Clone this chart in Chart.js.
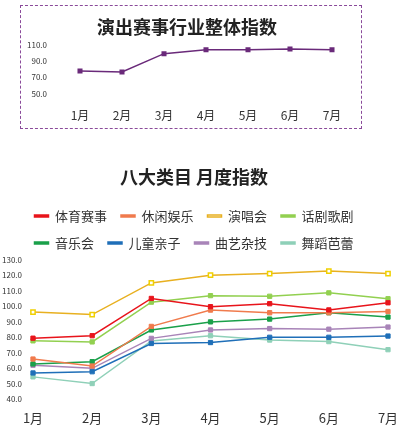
<!DOCTYPE html><html><head><meta charset="utf-8">
<script src="https://cdn.jsdelivr.net/npm/chart.js@4"></script>
<style>
body{margin:0;background:#fff;width:414px;height:437px;position:relative;font-family:"Noto Sans CJK SC",sans-serif}
#b1{position:absolute;left:20px;top:5px;width:342px;height:124px;border:1px dashed #8a4a9a;box-sizing:border-box}
#b2{position:absolute;left:0;top:160px;width:414px;height:277px}
</style></head><body>
<div id="b1"><canvas id="c1"></canvas></div>
<div id="b2"><canvas id="c2"></canvas></div>
<script>
const months=['1月','2月','3月','4月','5月','6月','7月'];
const overall=[78,76.7,99.5,104.4,104.5,105.4,104.5];
const names=['体育赛事','休闲娱乐','演唱会','话剧歌剧','音乐会','儿童亲子','曲艺杂技','舞蹈芭蕾'];
const sports=[79.4,81,105,99.7,101.6,97.6,102.2];
const leisure=[66,61.5,87,97.5,95.8,95.8,96.6];
const concert=[96.2,94.6,115,120,121,122.6,121];
const drama=[77.7,77,102.6,106.8,106.4,108.6,104.8];
const music=[62.8,64.3,84.7,89.9,91.7,95.8,93];
const kids=[57,57.8,76,76.6,80,80,80.8];
const folk=[62,60,79.3,84.7,85.6,85.2,86.6];
const dance=[54.5,50.2,77.6,81,78.2,77.2,72];
const colors=['#e8141b','#f07b4d','#e8b020','#92d050','#1aa04a','#1f6fb8','#a884b8','#8fd0b8'];
const F='"Noto Sans CJK SC",sans-serif';
Chart.defaults.font.family=F;Chart.defaults.color='#333';
const fmt=v=>v.toFixed(1);
new Chart(c1,{type:'line',data:{labels:months,datasets:[{data:overall,borderColor:'#6a2a7a',backgroundColor:'#6a2a7a',borderWidth:1.5,pointStyle:'rect',pointRadius:2.5}]},
options:{responsive:true,maintainAspectRatio:false,animation:false,layout:{padding:{left:0,right:8,top:0,bottom:2}},
plugins:{legend:{display:false},title:{display:true,text:'演出赛事行业整体指数',font:{size:18,weight:'bold'},color:'#222',padding:{top:10,bottom:6}}},
scales:{x:{offset:true,afterFit:a=>{},grid:{display:false},border:{display:false},ticks:{font:{size:12},color:'#333'}},
y:{min:45,max:112,afterBuildTicks:a=>{a.ticks=[50,70,90,110].map(v=>({value:v}))},afterFit:a=>{a.width=38},grid:{display:false},border:{display:false},ticks:{font:{size:8},callback:fmt,padding:4}}}}});
const sets=[sports,leisure,concert,drama,music,kids,folk,dance];
new Chart(c2,{type:'line',data:{labels:months,datasets:sets.map((d,i)=>({label:names[i],data:d,borderColor:colors[i],backgroundColor:i==2?'#fff':colors[i],pointBorderColor:i==2?'#f0d000':colors[i],borderWidth:1.5,pointStyle:'rect',pointRadius:3,pointBorderWidth:i==2?1.5:1}))},
options:{responsive:true,maintainAspectRatio:false,animation:false,layout:{padding:{left:0,right:26,top:0,bottom:8}},
plugins:{title:{display:true,text:'八大类目 月度指数',font:{size:18,weight:'bold'},color:'#222',padding:{top:6,bottom:8}},
legend:{labels:{font:{size:13},boxWidth:14,boxHeight:2,padding:14,color:'#333'}}},
scales:{x:{grid:{display:false},border:{display:false},ticks:{font:{size:13},color:'#333'}},
y:{min:40,max:130,afterFit:a=>{a.width=33},grid:{display:false},border:{display:false},ticks:{stepSize:10,font:{size:8},callback:fmt}}}}});
</script></body></html>
